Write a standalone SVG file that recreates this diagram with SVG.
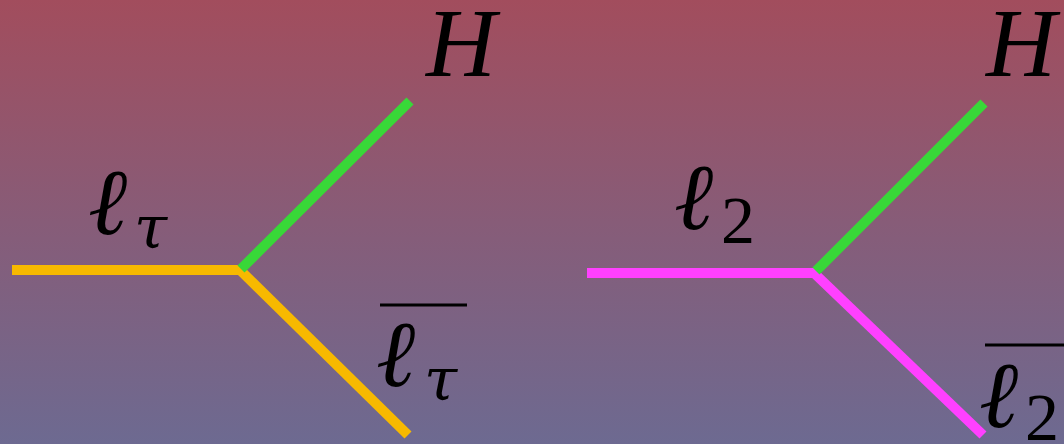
<svg xmlns="http://www.w3.org/2000/svg" width="1064" height="444" viewBox="0 0 1064 444">
<defs>
<linearGradient id="bg" x1="0" y1="0" x2="0" y2="1">
<stop offset="0" stop-color="#A24D5D"/>
<stop offset="0.5" stop-color="#875C78"/>
<stop offset="1" stop-color="#6D6A91"/>
</linearGradient>
</defs>
<style>
.t{font-family:"Liberation Serif","DejaVu Serif",serif;font-style:italic;fill:#000}
.ell{font-family:"DejaVu Serif",serif;font-style:italic;font-size:94px;fill:#000}
.big{font-size:97px}
.sub{font-family:"DejaVu Serif",serif;font-style:italic;font-size:60px;fill:#000}
.num{font-style:normal;font-size:68px}
.bar{stroke:#000;stroke-width:3}
.y{stroke:#F7B900;stroke-width:10;fill:none}
.g{stroke:#38D838;stroke-width:10;fill:none}
.p{stroke:#FF40FF;stroke-width:10;fill:none}
</style>
<rect x="0" y="0" width="1064" height="444" fill="url(#bg)"/>
<g id="connectors">
<line class="y" x1="12" y1="270" x2="242" y2="270"/>
<line class="y" x1="240" y1="270" x2="408" y2="435"/>
<line class="g" x1="241" y1="269" x2="410" y2="101"/>
<line class="p" x1="587" y1="273" x2="816" y2="273"/>
<line class="p" x1="814" y1="273" x2="983" y2="435"/>
<line class="g" x1="816" y1="271" x2="984" y2="103"/>
</g>
<g id="label-H-left"><text class="t big" x="426" y="76">H</text></g>
<g id="label-ltau"><text class="ell" x="88" y="234">ℓ</text><text class="sub" x="134" y="248">τ</text></g>
<g id="label-ltaubar"><line class="bar" x1="380" y1="305" x2="467" y2="305"/><text class="ell" x="376" y="386">ℓ</text><text class="sub" x="424" y="400">τ</text></g>
<g id="label-H-right"><text class="t big" x="986" y="76">H</text></g>
<g id="label-l2"><text class="ell" x="674" y="229">ℓ</text><text class="t num" x="721" y="243">2</text></g>
<g id="label-l2bar"><line class="bar" x1="985" y1="345" x2="1070" y2="345"/><text class="ell" x="979" y="427">ℓ</text><text class="t num" x="1025" y="440">2</text></g>
</svg>
